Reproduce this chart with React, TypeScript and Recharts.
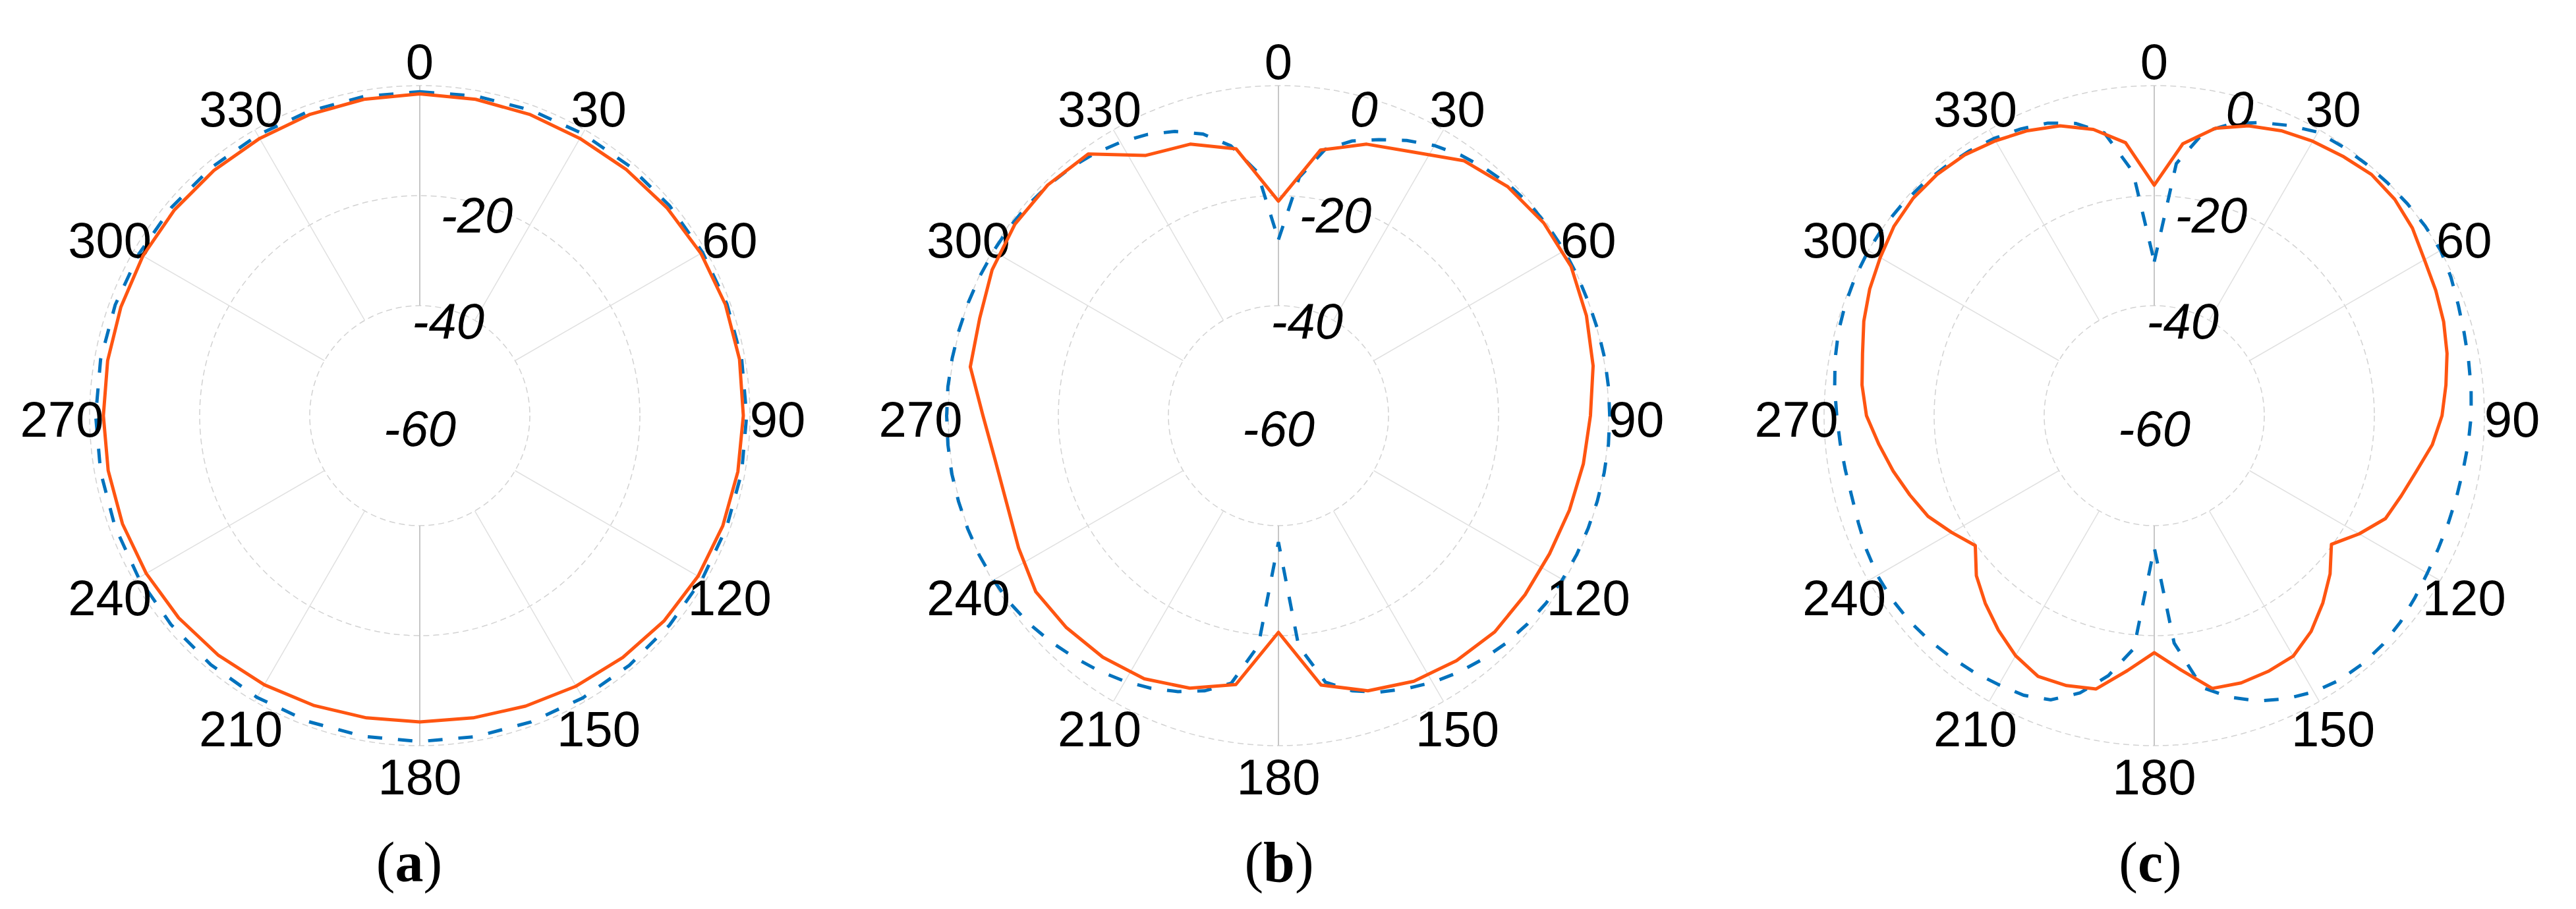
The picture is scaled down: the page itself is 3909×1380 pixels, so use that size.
import React from "react";
import {
  RadarChart,
  Radar,
  PolarGrid,
  PolarAngleAxis,
  PolarRadiusAxis,
} from "recharts";

const W = 3909;
const H = 1380;
const CY = 631;
const R_IN = 167; // -40 dB ring
const R_OUT = 501; // 0 dB ring

const ANGLE_LABEL_STEP = 30;
const RADIUS_TICKS = [-40, -20, 0];
const CENTER_TICK = -60;

// spokes, in recharts angles (90 = top, counter-clockwise)
const SPOKES = [60, 30, -30, -60, -120, -150, -210, -240];
const AXIS_SPOKES = [90, -90];

// (a)
const A_BLUE_STEP = 10;
const A_BLUE = [
  -1.1, -1.0, -0.9, -0.8, -0.75, -0.7, -0.65, -0.6, -0.6, -0.6, -0.6, -0.65,
  -0.7, -0.75, -0.75, -0.75, -0.75, -0.75, -0.75, -0.8, -0.8, -0.85, -0.9,
  -0.95, -1.0, -1.05, -1.1, -1.1, -1.1, -1.1, -1.1, -1.1, -1.1, -1.1, -1.1,
  -1.1,
];
const A_ORANGE_STEP = 10;
const A_ORANGE = [
  -1.5, -1.6, -1.7, -1.8, -1.6, -1.3, -1.0, -0.9, -1.0, -1.2, -1.3, -1.4,
  -1.6, -2.0, -2.6, -3.2, -3.8, -4.2, -4.3, -4.2, -3.9, -3.5, -3.1, -2.8,
  -2.6, -2.5, -2.5, -2.5, -2.4, -2.2, -1.9, -1.8, -1.8, -1.8, -1.7, -1.6,
];

// (b)
const B_BLUE_STEP = 5;
const B_BLUE = [
  -28, -16.5, -10.8, -8.3, -6.6, -4.8, -3.3, -2.2, -1.4, -0.7, -0.3, -0.1,
  0, 0, 0, 0.1, 0.2, 0.2, 0.2, 0.2, 0.1, 0, -0.1, -0.2,
  -0.4, -0.6, -1.0, -1.5, -2.2, -3.0, -4.0, -5.2, -6.5, -8.2, -10.8, -18,
  -37, -18, -10.6, -8.2, -6.6, -5.3, -4.2, -3.3, -2.5, -1.7, -1.0, -0.5,
  -0.2, 0, 0.1, 0.2, 0.3, 0.3, 0.3, 0.3, 0.2, 0.1, 0, -0.1,
  -0.2, -0.3, -0.5, -0.8, -1.2, -1.8, -2.6, -3.6, -5.0, -7.0, -10.2, -15.5,
];
const B_ORANGE_STEP = 9;
const B_ORANGE = [
  -21.0, -11.1, -8.1, -6.2, -2.7, -1.1, -0.4, -0.3, -1.15, -2.1,
  -3.3, -3.9, -4.4, -4.7, -4.6, -4.4, -4.95, -5.8, -7.4, -10.4,
  -20.6, -10.5, -7.9, -6.3, -5.7, -5.5, -5.5, -7.0, -8.1, -7.9,
  -6.3, -3.3, -2.9, -1.6, -0.8, -0.7, -1.2, -6.9, -8.1, -10.9,
];

// (c)
const C_BLUE_STEP = 5;
const C_BLUE = [
  -32, -14, -7.6, -5.0, -3.3, -1.8, -0.5, -0.3, -0.2, -0.1, 0, 0.1,
  0.1, -0.5, -1.2, -1.7, -2.0, -2.2, -2.4, -2.7, -3.0, -3.1, -3.1, -3.0,
  -2.7, -2.2, -1.6, -1.2, -1.1, -1.3, -2.0, -3.2, -4.8, -7.0, -9.8, -18.5,
  -36, -17.5, -12, -7.8, -5.0, -3.9, -3.5, -3.0, -2.6, -2.2, -1.9, -1.8,
  -1.9, -2.3, -2.8, -3.1, -3.0, -2.7, -2.3, -1.7, -1.1, -0.6, -0.3, -0.1,
  0, 0, -0.2, -0.5, -0.9, -1.3, -1.8, -2.5, -3.4, -5.0, -7.8, -15.5,
];
const C_ORANGE_STEP = 6;
const C_ORANGE = [
  -18.1, -10.3, -6.6, -4.6, -3.3, -2.4, -1.7, -1.0, -1.2, -2.0,
  -3.3, -4.0, -4.7, -5.6, -6.7, -7.7, -9.2, -11.3, -12.8, -14.0,
  -17.0, -20.2, -17.0, -14.2, -11.5, -9.5, -9.1, -8.9, -9.3, -13.5,
  -16.9, -13.4, -9.2, -8.4, -8.1, -9.6, -11.8, -14.1, -16.5, -19.8,
  -17.5, -15.0, -13.3, -11.5, -9.7, -7.7, -6.6, -5.8, -4.5, -3.4,
  -2.5, -1.5, -1.0, -1.0, -1.4, -2.3, -3.3, -4.6, -6.8, -10.1,
];

const PANELS = [
  { cx: 637, captionX: 621, caption: "a", showZero: false, blue: A_BLUE, blueStep: A_BLUE_STEP, orange: A_ORANGE, orangeStep: A_ORANGE_STEP },
  { cx: 1940, captionX: 1941, caption: "b", showZero: true, blue: B_BLUE, blueStep: B_BLUE_STEP, orange: B_ORANGE, orangeStep: B_ORANGE_STEP },
  { cx: 3269, captionX: 3263, caption: "c", showZero: true, blue: C_BLUE, blueStep: C_BLUE_STEP, orange: C_ORANGE, orangeStep: C_ORANGE_STEP },
];

const ORANGE = "#ff5511";
const BLUE = "#0072bd";
const FONT = "'Liberation Sans', Arial, sans-serif";
const SERIF = "'Liberation Serif', 'Times New Roman', serif";
const LABEL_SIZE = 76;

const toRows = (values: number[], step: number) =>
  values.map((v, i) => ({ angle: i * step, v }));

const layer: React.CSSProperties = { position: "absolute", left: 0, top: 0 };

function Panel({ cx, showZero, blue, blueStep, orange, orangeStep }: any) {
  const common = {
    width: W,
    height: H,
    cx,
    cy: CY,
    innerRadius: R_IN,
    outerRadius: R_OUT,
    startAngle: 90,
    endAngle: -270,
    margin: { top: 0, right: 0, bottom: 0, left: 0 },
  };

  const angleTick = (p: any) => {
    const v = Number(p.payload.value);
    if (v % ANGLE_LABEL_STEP !== 0) return <g />;
    return (
      <text
        x={p.x}
        y={p.y + 5}
        textAnchor="middle"
        dominantBaseline="central"
        fontFamily={FONT}
        fontSize={LABEL_SIZE}
        fill="#000"
      >
        {v}
      </text>
    );
  };

  const radiusTick = (p: any) => {
    const v = p.payload.value;
    if (v === 0 && !showZero) return <g />;
    const style = {
      textAnchor: "middle" as const,
      dominantBaseline: "central" as const,
      fontFamily: FONT,
      fontSize: LABEL_SIZE,
      fontStyle: "italic",
      fill: "#000",
    };
    return (
      <g>
        <text x={p.x} y={p.y + 18} {...style}>
          {v}
        </text>
        {v === RADIUS_TICKS[0] && (
          <text x={cx} y={CY + 19} {...style}>
            {CENTER_TICK}
          </text>
        )}
      </g>
    );
  };

  return (
    <>
      <div style={layer}>
        <RadarChart data={toRows(blue, blueStep)} {...common}>
          <PolarGrid
            gridType="circle"
            radialLines={false}
            stroke="#d2d2d2"
            strokeWidth={1.5}
            strokeDasharray="9 6"
          />
          <PolarGrid
            gridType="circle"
            polarRadius={[]}
            polarAngles={SPOKES}
            stroke="#e0e0e0"
            strokeWidth={1.5}
          />
          <PolarGrid
            gridType="circle"
            polarRadius={[]}
            polarAngles={AXIS_SPOKES}
            stroke="#c6c6c6"
            strokeWidth={2}
          />
          <PolarAngleAxis
            dataKey="angle"
            axisLine={false}
            tickLine={false}
            tickSize={42}
            tick={angleTick}
          />
          <PolarRadiusAxis
            angle={75}
            type="number"
            domain={[-40, 0]}
            allowDataOverflow
            ticks={RADIUS_TICKS}
            axisLine={false}
            tickLine={false}
            tick={radiusTick}
          />
          <Radar
            dataKey="v"
            stroke={BLUE}
            strokeWidth={5}
            strokeDasharray="22 24"
            fill="none"
            fillOpacity={0}
            dot={false}
            activeDot={false}
            isAnimationActive={false}
          />
        </RadarChart>
      </div>
      <div style={layer}>
        <RadarChart data={toRows(orange, orangeStep)} {...common}>
          <PolarAngleAxis dataKey="angle" axisLine={false} tickLine={false} tick={false} />
          <PolarRadiusAxis
            angle={75}
            type="number"
            domain={[-40, 0]}
            allowDataOverflow
            axisLine={false}
            tickLine={false}
            tick={false}
          />
          <Radar
            dataKey="v"
            stroke={ORANGE}
            strokeWidth={5}
            strokeLinejoin="round"
            fill="none"
            fillOpacity={0}
            dot={false}
            activeDot={false}
            isAnimationActive={false}
          />
        </RadarChart>
      </div>
    </>
  );
}

export default function App() {
  return (
    <div style={{ position: "relative", width: W, height: H, background: "#fff", overflow: "hidden" }}>
      <style>{"body{margin:0}"}</style>
      {PANELS.map((p) => (
        <Panel key={p.caption} {...p} />
      ))}
      <svg width={W} height={H} style={layer}>
        {PANELS.map((p) => (
          <text
            key={p.caption}
            x={p.captionX}
            y={1338}
            textAnchor="middle"
            fontFamily={SERIF}
            fontSize={86}
            fill="#000"
          >
            (<tspan fontWeight="bold">{p.caption}</tspan>)
          </text>
        ))}
      </svg>
    </div>
  );
}
